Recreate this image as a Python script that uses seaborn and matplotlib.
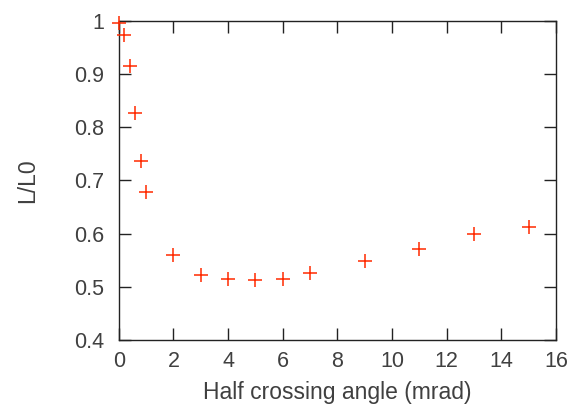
import matplotlib
matplotlib.use("Agg")
import matplotlib.pyplot as plt
import seaborn as sns
import pandas as pd

# half crossing angle (mrad) vs relative luminosity
angle = [0, 0.2, 0.4, 0.6, 0.8, 1, 2, 3, 4, 5, 6, 7, 9, 11, 13, 15]
lumi = [0.996, 0.974, 0.914, 0.826, 0.737, 0.678, 0.560, 0.523, 0.515, 0.512,
        0.515, 0.526, 0.549, 0.571, 0.600, 0.612]

x_ticks = [0, 2, 4, 6, 8, 10, 12, 14, 16]
y_ticks = [0.4, 0.5, 0.6, 0.7, 0.8, 0.9, 1.0]
y_tick_labels = ["0.4", "0.5", "0.6", "0.7", "0.8", "0.9", "1"]

df = pd.DataFrame({"angle": angle, "lumi": lumi})

sns.set_style("ticks")
plt.rcParams["font.family"] = ["Liberation Sans", "DejaVu Sans"]

fig = plt.figure(figsize=(5.86, 4.09), dpi=100)
ax = fig.add_axes([0.2026, 0.1687, 0.7462, 0.7807])

sns.scatterplot(data=df, x="angle", y="lumi", marker="+", color="#ff2a00",
                s=90, linewidth=1.1, ax=ax, clip_on=False, zorder=3)

ax.set_xlim(0, 16)
ax.set_ylim(0.4, 1.0)
ax.set_xticks(x_ticks)
ax.set_yticks(y_ticks)
ax.set_yticklabels(y_tick_labels)

for sp in ax.spines.values():
    sp.set_visible(True)
    sp.set_color("#222222")
    sp.set_linewidth(1.0)

ax.tick_params(direction="in", length=8.5, width=1.0, color="#222222",
               top=True, right=True, labelsize=15.5, labelcolor="#404040")
ax.tick_params(axis="x", pad=8)
ax.tick_params(axis="y", pad=10.5)

ax.set_xlabel("Half crossing angle (mrad)", fontsize=16.5, color="#404040", labelpad=6.5)
ax.set_ylabel("L/L0", fontsize=16.5, color="#404040", labelpad=25)

fig.savefig("out.png", dpi=100)
